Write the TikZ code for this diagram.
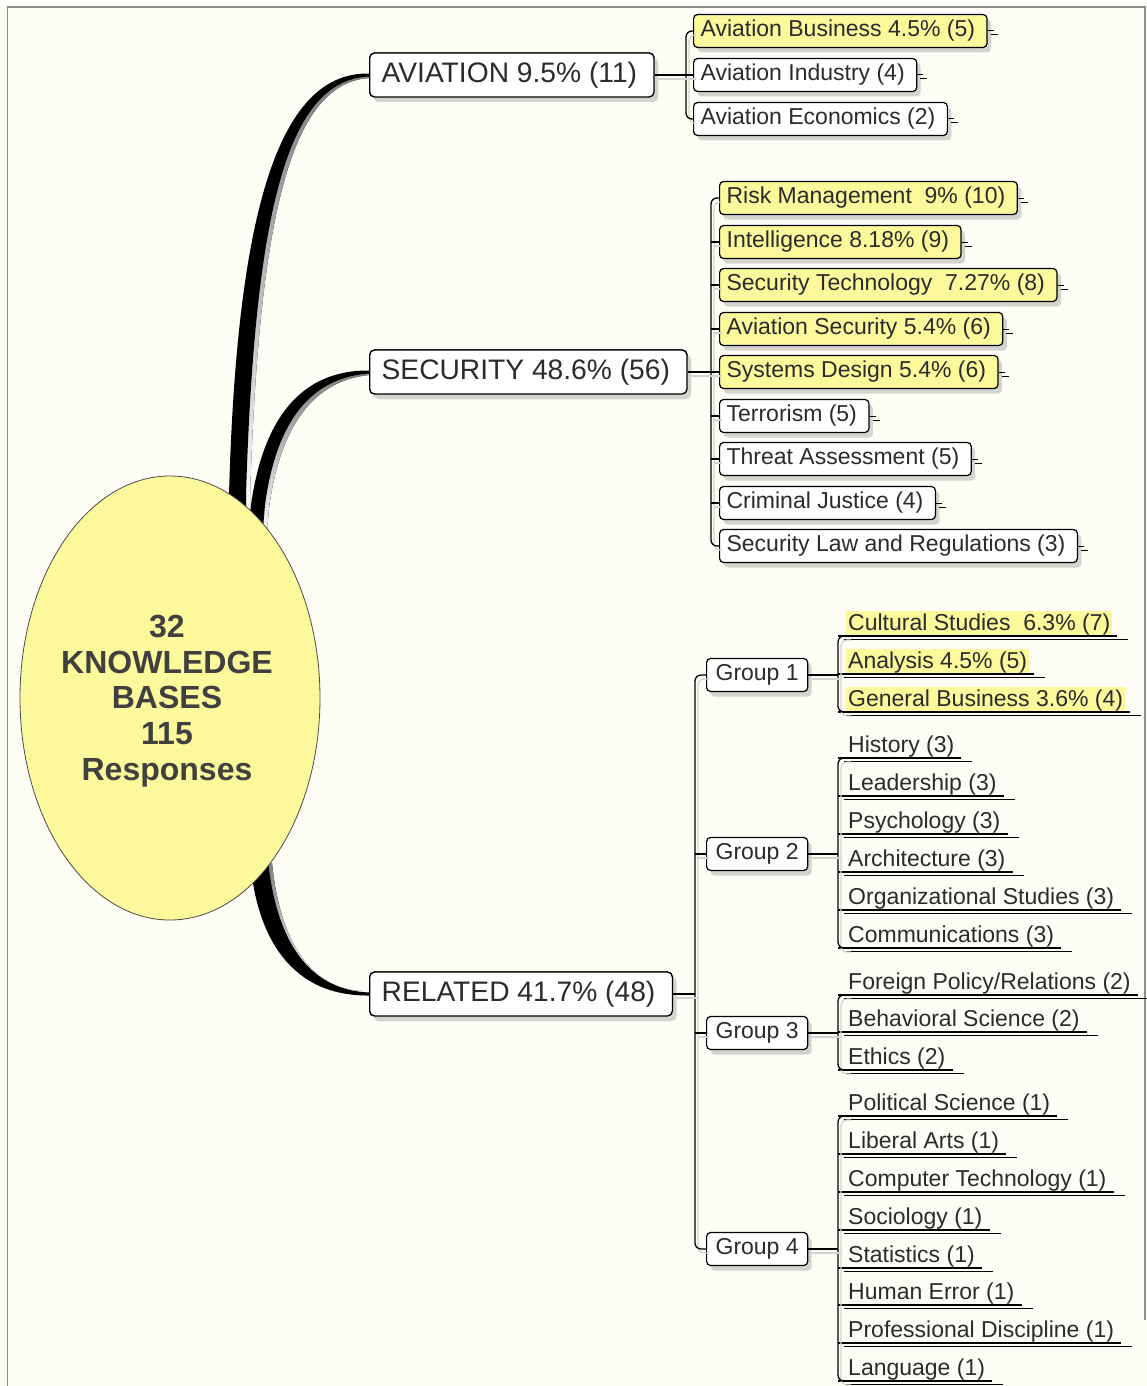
\documentclass[tikz,border=0pt]{standalone}
\usepackage{fontspec}
\setmainfont{Liberation Sans}
\usetikzlibrary{calc,shadows,shapes.geometric}

\definecolor{paper}{HTML}{FDFDF6}
\definecolor{hl}{HTML}{FBF99C}
\definecolor{ink}{HTML}{2B2B2B}
\definecolor{shade}{HTML}{D4D4CE}
\definecolor{rim}{HTML}{8C8C8A}

\newcommand\fsmain{\fontsize{28.2}{31}\selectfont}
\newcommand\fssub{\fontsize{23}{27}\selectfont}
\newcommand\fshub{\fontsize{32}{35.8}\selectfont\bfseries}

\tikzset{
  boxshadow/.style={drop shadow={shadow xshift=4pt,shadow yshift=-5pt,fill=shade,opacity=1}},
  mainbox/.style={draw=black,line width=1.3pt,fill=white,rounded corners=5pt,
    minimum height=44pt,inner xsep=12pt,inner ysep=0pt,anchor=west,text=ink,
    font=\fsmain,boxshadow,execute at end node={\hspace{5pt}}},
  subbox/.style={draw=black,line width=1.2pt,fill=white,rounded corners=4pt,
    minimum height=33pt,inner xsep=7pt,inner ysep=0pt,anchor=west,text=ink,
    font=\fssub,boxshadow,execute at end node={\hspace{5pt}}},
  grpbox/.style={draw=black,line width=1.2pt,fill=white,rounded corners=4pt,
    minimum height=33pt,inner xsep=9pt,inner ysep=0pt,anchor=west,text=ink,
    font=\fssub,boxshadow},
  hot/.style={fill=hl},
  leaf/.style={inner xsep=2pt,inner ysep=0pt,text height=19pt,text depth=5pt,
    anchor=base west,text=ink,font=\fssub},
  link/.style={draw=black,line width=1.3pt,rounded corners=6pt,
    preaction={draw=shade,line width=1.2pt,transform canvas={shift={(3pt,-4pt)}}}},
  stub/.style={draw=black,line width=1pt},
}

% one underlined leaf: name, underline y, text, extra style
\newcommand\leafrow[4]{%
  \node[leaf,#4] (#1) at (846,#2-6) {#3};
  \coordinate (#1u) at (838,#2);
  \draw[shade,line width=1.2pt] (844,#2+3.5) -- ($(#1.base east)+(16,9.5)$);
  \draw[black,line width=1.2pt] (#1u) -- ($(#1.base east)+(5,6)$);
}
% small stub on the right side of a box
\newcommand\stubright[1]{%
  \draw[shade,line width=1pt] ($(#1.east)+(3,4)$) -- ++(7,0);
  \draw[stub] (#1.east) -- ++(6,0);
}

\begin{document}
\begin{tikzpicture}[x=1pt,y=-1pt]
\fill[paper] (0,0) rectangle (1147,1386);
\useasboundingbox (0,0) rectangle (1147,1386);
\draw[rim,line width=1.6pt] (7.5,1386) -- (7.5,7) -- (1145,7) -- (1145,1320);

% ---- main topics ----
\node[mainbox] (avi) at (369,75) {AVIATION 9.5\% (11)};
\node[mainbox] (sec) at (369,372) {SECURITY 48.6\% (56)};
\node[mainbox] (rel) at (369,994) {RELATED 41.7\% (48)};

% ---- tapered branches from the hub (shadow first) ----
\begin{scope}[shift={(4,3)}]
\fill[shade] (229,530) -- (229,495) .. controls (237,200) and (282,72) .. (avi.west)
  -- ++(0,3) .. controls (290,80) and (255,200) .. (246,495) -- (246,530) -- cycle;
\fill[shade] (247,540) -- (251,505) .. controls (263,420) and (300,370) .. (sec.west)
  -- ++(0,3) .. controls (305,378) and (275,430) .. (265,505) -- (262,540) -- cycle;
\fill[shade] (250,860) .. controls (258,950) and (300,996) .. (rel.west)
  -- ++(0,-3) .. controls (308,990) and (276,940) .. (268,860) -- cycle;
\end{scope}
\fill[black] (229,530) -- (229,495) .. controls (237,200) and (282,72) .. ($(avi.west)+(0,-1.5)$)
  -- ++(0,3) .. controls (290,80) and (255,200) .. (246,495) -- (246,530) -- cycle;
\fill[black] (247,540) -- (251,505) .. controls (263,420) and (300,370) .. ($(sec.west)+(0,-1.5)$)
  -- ++(0,3) .. controls (305,378) and (275,430) .. (265,505) -- (262,540) -- cycle;
\fill[black] (250,860) .. controls (258,950) and (300,996) .. ($(rel.west)+(0,1.5)$)
  -- ++(0,-3) .. controls (308,990) and (276,940) .. (268,860) -- cycle;

% redraw the topics above the branch ends
\node[mainbox] at (avi.west) {AVIATION 9.5\% (11)};
\node[mainbox] at (sec.west) {SECURITY 48.6\% (56)};
\node[mainbox] at (rel.west) {RELATED 41.7\% (48)};

% ---- hub ----
\node[ellipse,draw=black!70,line width=0.8pt,fill=hl,minimum width=300pt,
  minimum height=444pt,inner sep=0pt] (hub) at (170,698) {};
\node[font=\fshub,text=ink!90,align=center,inner sep=0pt] (hubtext) at (167,701)
  {32\\KNOWLEDGE\\BASES\\115\\Responses};

% ---- aviation ----
\node[subbox,hot] (ab) at (693,31) {Aviation Business 4.5\% (5)};
\node[subbox] (ai) at (693,75) {Aviation Industry (4)};
\node[subbox] (ae) at (693,119) {Aviation Economics (2)};
\draw[link] (ab.west) -- ++(-7,0) |- (ae.west);
\draw[link] (avi.east) -- (ai.west);
\foreach \n in {ab,ai,ae} {\stubright{\n}}

% ---- security ----
\node[subbox,hot] (s1) at (719,198) {Risk Management~ 9\% (10)};
\node[subbox,hot] (s2) at (719,242) {Intelligence 8.18\% (9)};
\node[subbox,hot] (s3) at (719,285) {Security Technology~ 7.27\% (8)};
\node[subbox,hot] (s4) at (719,329) {Aviation Security 5.4\% (6)};
\node[subbox,hot] (s5) at (719,372) {Systems Design 5.4\% (6)};
\node[subbox] (s6) at (719,416) {Terrorism (5)};
\node[subbox] (s7) at (719,459) {Threat Assessment (5)};
\node[subbox] (s8) at (719,503) {Criminal Justice (4)};
\node[subbox] (s9) at (719,546) {Security Law and Regulations (3)};
\draw[link] (s1.west) -- ++(-8,0) |- (s9.west);
\foreach \n in {s2,s3,s4,s6,s7,s8} {\draw[link] (\n.west) -- ++(-8,0);}
\draw[link] (sec.east) -- (s5.west);
\foreach \n in {s1,s2,s3,s4,s5,s6,s7,s8,s9} {\stubright{\n}}

% ---- related: groups ----
\node[grpbox] (g1) at (706,675) {Group 1};
\node[grpbox] (g2) at (706,854) {Group 2};
\node[grpbox] (g3) at (706,1033) {Group 3};
\node[grpbox] (g4) at (706,1249) {Group 4};
\draw[link] (g1.west) -- ++(-11,0) |- (g4.west);
\draw[link] (g2.west) -- ++(-11,0);
\draw[link] (g3.west) -- ++(-11,0);
\draw[link] (rel.east) -- ($(rel.east -| g1.west)+(-11,0)$);

% group 1
\leafrow{c1}{636}{Cultural Studies~ 6.3\% (7)}{hot}
\leafrow{c2}{674}{Analysis 4.5\% (5)}{hot}
\leafrow{c3}{712}{General Business 3.6\% (4)}{hot}
\draw[link] ($(c1u)+(10,0)$) -- (c1u) -- (c3u) -- ++(10,0);
\draw[link] (g1.east) -- ($(g1.east -| c1u)$);

% group 2
\leafrow{d1}{758}{History (3)}{}
\leafrow{d2}{796}{Leadership (3)}{}
\leafrow{d3}{834}{Psychology (3)}{}
\leafrow{d4}{872}{Architecture (3)}{}
\leafrow{d5}{910}{Organizational Studies (3)}{}
\leafrow{d6}{948}{Communications (3)}{}
\draw[link] ($(d1u)+(10,0)$) -- (d1u) -- (d6u) -- ++(10,0);
\draw[link] (g2.east) -- ($(g2.east -| d1u)$);

% group 3
\leafrow{e1}{995}{Foreign Policy/Relations (2)}{}
\leafrow{e2}{1032}{Behavioral Science (2)}{}
\leafrow{e3}{1070}{Ethics (2)}{}
\draw[link] ($(e1u)+(10,0)$) -- (e1u) -- (e3u) -- ++(10,0);
\draw[link] (g3.east) -- ($(g3.east -| e1u)$);

% group 4
\leafrow{f1}{1116}{Political Science (1)}{}
\leafrow{f2}{1154}{Liberal Arts (1)}{}
\leafrow{f3}{1192}{Computer Technology (1)}{}
\leafrow{f4}{1230}{Sociology (1)}{}
\leafrow{f5}{1268}{Statistics (1)}{}
\leafrow{f6}{1305}{Human Error (1)}{}
\leafrow{f7}{1343}{Professional Discipline (1)}{}
\leafrow{f8}{1381}{Language (1)}{}
\draw[link] ($(f1u)+(10,0)$) -- (f1u) -- (f8u) -- ++(10,0);
\draw[link] (g4.east) -- ($(g4.east -| f1u)$);
\end{tikzpicture}
\end{document}
